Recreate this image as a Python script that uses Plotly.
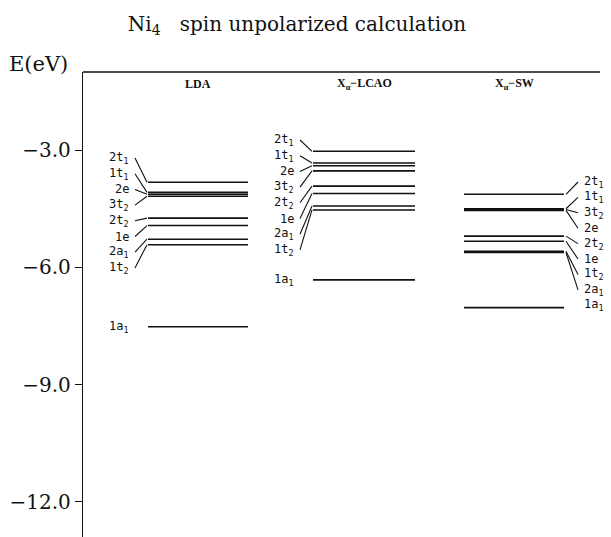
import plotly.graph_objects as go

# ---------------- data ----------------
methods = ["LDA", "X<sub>α</sub>−LCAO", "X<sub>α</sub>−SW"]

labels_lda = ["2t1", "1t1", "2e", "3t2", "2t2", "1e", "2a1", "1t2", "1a1"]
levels_lda = [-3.82, -4.08, -4.13, -4.18, -4.74, -4.93, -5.28, -5.42, -7.52]

labels_lcao = ["2t1", "1t1", "2e", "3t2", "2t2", "1e", "2a1", "1t2", "1a1"]
levels_lcao = [-3.03, -3.33, -3.40, -3.53, -3.92, -4.11, -4.43, -4.53, -6.32]

labels_sw = ["2t1", "1t1", "3t2", "2e", "2t2", "1e", "1t2", "2a1", "1a1"]
levels_sw = [-4.13, -4.50, -4.52, -4.54, -5.20, -5.33, -5.59, -5.62, -7.03]

ytick_vals = [-3.0, -6.0, -9.0, -12.0]
ytick_text = ["−3.0", "−6.0", "−9.0", "−12.0"]

title_text = "Ni<sub>4</sub>\u00a0\u00a0 spin unpolarized calculation"
ylabel_text = "E(eV)"

# ---------------- layout constants ----------------
W, H = 611, 537
ML, MT = 83, 72
YR = [-12.90, -1.0]
PX_PER_EV = (H - MT) / (YR[1] - YR[0])

def px2e(py):
    return YR[1] - (py - MT) / PX_PER_EV

cols = [
    dict(x0=65, x1=165, side="left", lab_first=158, lab_step=15.7, last_on_line=True),
    dict(x0=230, x1=332, side="left", lab_first=140, lab_step=15.7, last_on_line=True),
    dict(x0=381, x1=481, side="right", lab_first=182, lab_step=15.4, last_on_line=False),
]
datasets = [(labels_lda, levels_lda), (labels_lcao, levels_lcao), (labels_sw, levels_sw)]

LAB_FONT = dict(family="DejaVu Sans Mono", size=12, color="#111")

def fmt(lbl):
    if lbl[-1].isdigit() and len(lbl) > 2:
        return lbl[:-1] + "<sub>" + lbl[-1] + "</sub>"
    return lbl

fig = go.Figure()
annotations = []

for col, (labs, levs), name in zip(cols, datasets, methods):
    xs, ys = [], []
    for e in levs:
        xs += [col["x0"], col["x1"], None]
        ys += [e, e, None]
    fig.add_trace(go.Scatter(x=xs, y=ys, mode="lines",
                             line=dict(color="#111", width=1.6),
                             hoverinfo="skip", showlegend=False))
    cx, cy = [], []
    n = len(labs)
    for i, (lab, e) in enumerate(zip(labs, levs)):
        if i == n - 1 and col["last_on_line"]:
            ly = e
            connect = False
        else:
            ly = px2e(col["lab_first"] + i * col["lab_step"])
            connect = not (i == n - 1)
        if col["side"] == "left":
            lx = col["x0"] - 17
            if connect:
                cx += [col["x0"] - 13, col["x0"] - 1, None]
                cy += [ly, e, None]
            annotations.append(dict(x=lx, y=ly, xref="x", yref="y", text=fmt(lab),
                                    showarrow=False, xanchor="right", yanchor="middle",
                                    font=LAB_FONT))
        else:
            lx = col["x1"] + 18
            if connect:
                cx += [col["x1"] + 2, col["x1"] + 14, None]
                cy += [e, ly, None]
            annotations.append(dict(x=lx, y=ly, xref="x", yref="y", text=fmt(lab),
                                    showarrow=False, xanchor="left", yanchor="middle",
                                    font=LAB_FONT))
    fig.add_trace(go.Scatter(x=cx, y=cy, mode="lines",
                             line=dict(color="#111", width=1.1),
                             hoverinfo="skip", showlegend=False))
    annotations.append(dict(x=(col["x0"] + col["x1"]) / 2, y=px2e(84), xref="x", yref="y",
                            text="<b>" + name + "</b>", showarrow=False,
                            xanchor="center", yanchor="middle",
                            font=dict(family="Liberation Serif", size=12, color="#111")))

annotations.append(dict(x=-76 / (W - ML), y=(H - 64) / (H - MT), xref="paper", yref="paper",
                        text=ylabel_text, showarrow=False, xanchor="left", yanchor="middle",
                        font=dict(family="DejaVu Serif", size=21, color="#111")))

fig.update_layout(
    width=W, height=H,
    margin=dict(l=ML, r=0, t=MT, b=0, pad=0),
    paper_bgcolor="white", plot_bgcolor="white",
    title=dict(text=title_text, x=297 / W, xref="container", xanchor="center",
               y=1 - 24 / H, yref="container", yanchor="middle",
               font=dict(family="DejaVu Serif", size=20, color="#111")),
    xaxis=dict(range=[0, W - ML], visible=False, fixedrange=True),
    yaxis=dict(range=YR, showgrid=False, zeroline=False, showline=True,
               linecolor="#111", linewidth=1.3, ticks="outside", ticklen=7,
               tickwidth=1.3, tickcolor="#111", tickvals=ytick_vals, ticktext=ytick_text,
               tickfont=dict(family="DejaVu Serif", size=20, color="#111"),
               fixedrange=True),
    annotations=annotations,
    shapes=[dict(type="line", xref="x", yref="paper", x0=0, x1=517, y0=1, y1=1,
                 line=dict(color="#111", width=1.3))],
)

fig.write_html("out.html")
